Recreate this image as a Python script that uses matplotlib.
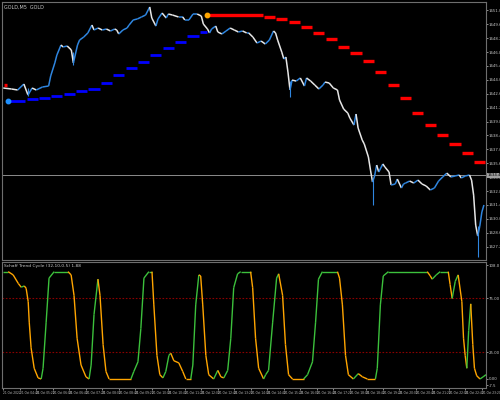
import numpy as np
import matplotlib
matplotlib.use("Agg")
import matplotlib.pyplot as plt
from matplotlib.collections import LineCollection

# price path (bar index, close)
bars = [0, 4, 7, 10, 12, 14, 16, 19, 22, 23, 25, 26, 28, 29, 31, 33, 34, 36, 37, 39,
        41, 43, 44, 46, 48, 50, 52, 54, 55, 56, 58, 60, 61, 63, 65, 67, 69, 71, 72, 74,
        75, 77, 79, 80, 82, 85, 87, 88, 90, 92, 94, 96, 97, 99, 100, 101, 103, 104, 106, 108,
        110, 112, 114, 116, 118, 119, 121, 123, 125, 127, 129, 131, 132, 133, 135, 136, 137, 138, 139, 140,
        142, 144, 146, 147, 149, 151, 153, 155, 156, 158, 160, 162, 163, 165, 167, 168, 170, 171, 172, 174,
        175, 177, 178, 179, 180, 181, 182, 184, 185, 187, 188, 190, 191, 193, 194, 195, 197, 199, 201, 203,
        205, 207, 209, 211, 213, 215, 217, 219, 221, 222, 224, 226, 227, 228, 229, 230, 231, 232, 233]
close = [1643.18, 1643.08, 1642.98, 1643.58, 1642.47, 1643.18, 1642.98, 1643.28, 1643.38, 1644.39, 1645.70, 1646.50, 1647.51, 1647.31, 1647.41, 1647.01, 1645.70, 1647.51, 1648.01, 1648.31,
         1648.72, 1649.52, 1649.02, 1649.22, 1649.02, 1649.12, 1648.92, 1649.12, 1649.02, 1648.62, 1649.02, 1649.22, 1649.52, 1650.03, 1650.13, 1650.33, 1650.53, 1651.34, 1650.23, 1649.42,
         1650.13, 1650.73, 1650.23, 1650.63, 1650.53, 1650.33, 1650.33, 1650.03, 1650.03, 1650.63, 1650.63, 1650.43, 1649.62, 1649.12, 1648.72, 1649.12, 1649.42, 1648.82, 1648.62, 1648.92,
         1649.22, 1649.02, 1648.82, 1648.92, 1648.72, 1648.72, 1648.31, 1647.71, 1647.91, 1647.61, 1648.01, 1648.92, 1648.72, 1648.01, 1646.80, 1646.10, 1646.30, 1644.79, 1642.98, 1643.98,
         1643.88, 1644.19, 1643.38, 1644.19, 1643.88, 1643.48, 1643.08, 1643.48, 1643.78, 1643.68, 1643.18, 1642.98, 1641.97, 1641.06, 1640.66, 1640.16, 1639.45, 1640.56, 1639.15, 1637.94,
         1637.54, 1636.23, 1634.92, 1633.71, 1634.32, 1635.42, 1634.72, 1635.53, 1635.22, 1634.72, 1633.41, 1633.51, 1634.01, 1633.11, 1633.51, 1633.61, 1633.81, 1633.61, 1633.91, 1633.51,
         1633.31, 1632.91, 1633.11, 1633.81, 1634.22, 1634.61, 1634.22, 1634.32, 1634.42, 1634.12, 1634.32, 1634.42, 1633.91, 1632.40, 1629.38, 1628.27, 1629.28, 1630.69, 1631.40]

# spikes (bar, top, low)
wick_bar = [12, 34, 139, 179, 230]
wick_top = [1643.18, 1646.80, 1643.88, 1634.01, 1629.28]
wick_low = [1642.37, 1645.49, 1642.27, 1631.40, 1626.16]

# trailing stop steps (start bar, level, side)
stop_start = [0, 2, 11, 17, 23, 29, 35, 41, 47, 53, 59, 65, 71, 77, 83, 89, 95,
              99, 126, 132, 138, 144, 150, 156, 162, 168, 174, 180, 186, 192, 198, 204, 210, 216, 222, 228]
stop_level = [1643.48, 1641.90, 1642.07, 1642.17, 1642.37, 1642.54, 1642.85, 1643.08, 1643.71, 1644.46, 1645.16, 1645.80, 1646.53, 1647.18, 1647.84, 1648.45, 1648.82,
              1650.50, 1650.36, 1650.10, 1649.79, 1649.35, 1648.75, 1648.08, 1647.34, 1646.70, 1645.87, 1644.79, 1643.48, 1642.14, 1640.66, 1639.48, 1638.45, 1637.51, 1636.60, 1635.70]
stop_side = ["dn"] + ["up"] * 16 + ["dn"] * 19
last_bar = 234
bid = 1634.41

# Schaff Trend Cycle
stc_bar = [0, 2.4, 4.8, 7.3, 8.7, 10.2, 11.1, 12.1, 12.6, 13.5, 15.0, 16.9, 18.4, 19.3, 20.8, 22.2, 24.7, 31.4, 32.9, 34.3,
           35.8, 37.7, 40.1, 41.6, 42.6, 44.0, 45.9, 46.9, 48.4, 49.8, 51.3, 61.9, 63.3, 65.3, 66.7, 68.2, 70.6, 72.1, 73.0, 74.5,
           75.9, 77.4, 78.8, 80.3, 81.2, 82.7, 85.1, 87.0, 88.5, 90.9, 91.9, 93.3, 94.8, 95.7, 96.7, 98.2, 99.6, 102.0, 104.0, 105.5,
           106.9, 108.8, 110.3, 111.7, 113.6, 115.1, 119.9, 120.9, 122.3, 123.8, 126.2, 127.2, 128.6, 130.6, 132.5, 133.5, 135.4, 136.8, 138.3, 140.2,
           145.6, 147.5, 149.9, 151.4, 152.8, 154.7, 162.0, 163.0, 164.4, 165.9, 167.3, 169.7, 172.1, 174.1, 176.5, 180.4, 181.3, 182.8, 184.2, 186.7,
           205.5, 207.0, 207.9, 209.9, 211.8, 215.7, 216.6, 217.6, 219.1, 220.5, 222.3, 223.1, 223.9, 224.7, 225.6, 226.6, 227.6, 228.4, 229.5, 231.1,
           232.6, 234]
stc_val = [100, 100, 97, 89, 85.5, 86.7, 84.5, 72, 53, 29, 10, 1, 0, 10, 53, 94, 100, 100, 97, 78,
           38, 13, 2, 0, 13, 60, 93, 78, 32, 7, 0, 0, 7, 16, 47, 94, 100, 100, 69, 22,
           4, 1, 7, 22, 24, 17, 15, 7, 0, 0, 13, 69, 97, 96, 69, 22, 4, 0, 8, 2,
           1, 8, 38, 85, 98, 100, 100, 85, 38, 10, 0, 4, 8, 53, 94, 98, 78, 32, 4, 0,
           0, 4, 16, 53, 93, 100, 100, 94, 69, 22, 4, 0, 5, 2, 0, 0, 10, 69, 96, 100,
           100, 96, 93, 97, 100, 100, 88, 75, 91, 97, 72, 38, 22, 10, 45, 70, 32, 10, 3, 0,
           2, 4]

price_ticks = [1651.0 - 1.4 * k for k in range(18)]
start_hour, start_min = 4, 0

BG = "black"
FG = "#c8c8c8"
GRID = "#6e6e6e"

fig = plt.figure(figsize=(5, 4), dpi=100, facecolor=BG)
ax = fig.add_axes([0.004, 0.35, 0.968, 0.645], facecolor=BG)
ax2 = fig.add_axes([0.004, 0.03, 0.968, 0.315], facecolor=BG, sharex=ax)

# price
x = np.array(bars, float)
y = np.array(close)
segs = np.stack([np.column_stack([x[:-1], y[:-1]]), np.column_stack([x[1:], y[1:]])], axis=1)
cols = ["#2f86e0" if d >= 0 else "#e6e6e6" for d in np.diff(y)]
ax.add_collection(LineCollection(segs, colors=cols, linewidths=1.1, zorder=3))
ax.vlines(wick_bar, wick_low, wick_top, color="#2f86e0", lw=0.8, zorder=2)

# trailing stop
ends = stop_start[1:] + [last_bar]
for s, e, lv, sd in zip(stop_start, ends, stop_level, stop_side):
    c = "#0000ff" if sd == "up" else "#ff0000"
    ax.hlines(lv, s + 0.3, e - 0.3, color=c, lw=2.0 if sd == "up" else 2.4, zorder=4)
ax.plot(stop_start[1] + 0.2, stop_level[1], "o", color="#1e90ff", ms=3.2, zorder=5)
ax.plot(stop_start[17], stop_level[17], "o", color="#ffa500", ms=3.2, zorder=5)

ax.axhline(bid, color="#8c8c8c", lw=0.7, zorder=1)
ax.set_ylim(1625.86, 1651.84)
ax.set_xlim(-0.6, 234)
ax.yaxis.tick_right()
ax.set_yticks(price_ticks)
ax.set_yticklabels([f"{v:.1f}" for v in price_ticks])
ax.text(1.003, (bid - 1625.86) / (1651.84 - 1625.86), f"{bid:.1f}", transform=ax.transAxes,
        fontsize=2.8, color="black", va="center", ha="left",
        bbox=dict(boxstyle="square,pad=0.15", fc="#a0a0a0", ec="none"))
ax.text(0.005, 0.99, "GOLD,M5  GOLD", transform=ax.transAxes, fontsize=3.5, color=FG, va="top")

# oscillator
sx = np.array(stc_bar)
sv = np.array(stc_val, float)
state = "g"
scol = []
for d in np.diff(sv):
    if d > 0:
        state = "g"
    elif d < 0:
        state = "o"
    scol.append("#3cc03c" if state == "g" else "#ffa500")
ssegs = np.stack([np.column_stack([sx[:-1], sv[:-1]]), np.column_stack([sx[1:], sv[1:]])], axis=1)
ax2.add_collection(LineCollection(ssegs, colors=scol, linewidths=1.0, zorder=3))
for lvl in (75, 25):
    ax2.axhline(lvl, color="#8b0000", lw=0.8, ls=(0, (1.5, 1.5)), zorder=1)
ax2.set_ylim(-8.4, 109.0)
ax2.yaxis.tick_right()
ax2.set_yticks([106.0, 75, 25, 0, -6.0])
ax2.set_yticklabels(["108.0", "75.00", "25.00", "0.00", "-7.5"])
ax2.text(0.005, 0.985, "Schaff Trend Cycle (32,10,0.5) 1.88", transform=ax2.transAxes,
         fontsize=3.2, color=FG, va="top")

xt = list(range(0, 234, 8))
labels = []
for k, t in enumerate(xt):
    m = start_hour * 60 + start_min + 40 * k
    labels.append("21 Oct 2022" if k == 0 else f"21 Oct {m // 60 % 24:02d}:{m % 60:02d}")
ax2.set_xticks(xt)
ax2.set_xticklabels(labels, ha="left")
plt.setp(ax.get_xticklabels(), visible=False)

for a in (ax, ax2):
    a.tick_params(colors=FG, labelsize=2.8, length=1.5, width=0.5, pad=0.6)
    for s in a.spines.values():
        s.set_color(GRID)
        s.set_linewidth(0.8)
ax2.tick_params(axis="x", labelsize=2.1)
ax.tick_params(axis="x", length=0)

fig.savefig("out.png", dpi=100, facecolor=BG)
